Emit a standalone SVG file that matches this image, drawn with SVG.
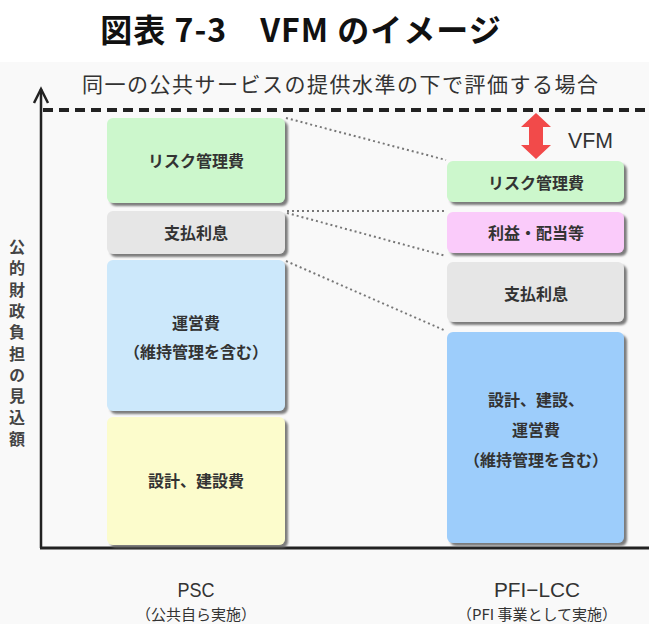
<svg xmlns="http://www.w3.org/2000/svg" width="649" height="624" viewBox="0 0 649 624">
<defs>
<filter id="sh" x="-10%" y="-10%" width="125%" height="130%">
<feGaussianBlur in="SourceAlpha" stdDeviation="1"/>
<feOffset dx="3" dy="3" result="o"/>
<feFlood flood-color="#666" flood-opacity="0.85"/>
<feComposite in2="o" operator="in"/>
<feMerge><feMergeNode/><feMergeNode in="SourceGraphic"/></feMerge>
</filter>
<style>
.box{filter:url(#sh);}
.lbl{font-family:"Noto Sans CJK JP","Noto Sans",sans-serif;font-weight:bold;font-size:16px;fill:#333;text-anchor:middle;}
.dot{stroke:#777;stroke-width:2;stroke-dasharray:2 3;fill:none;}
.green{fill:#ccf7cc;}.gray{fill:#e6e6e6;}.lblue{fill:#cce8fb;}.yellow{fill:#fcfccc;}.pink{fill:#facbfa;}.blue{fill:#9dcdfb;}
.sub{font-family:"Noto Sans CJK JP",sans-serif;font-size:15px;fill:#333;text-anchor:middle;}
.name{font-family:"Liberation Sans",Arial,sans-serif;font-size:21px;fill:#333;text-anchor:middle;}
</style>
</defs>
<rect x="0" y="0" width="649" height="624" fill="#fff"/>
<rect x="0" y="62" width="649" height="562" fill="#f9f9f9"/>
<text x="301" y="42" font-family="Noto Sans CJK JP, sans-serif" font-weight="bold" font-size="32" fill="#111" text-anchor="middle" letter-spacing="1">図表 7-3　VFM のイメージ</text>
<text x="82" y="92" font-family="Noto Sans CJK JP, sans-serif" font-size="21" fill="#333" letter-spacing="1.5">同一の公共サービスの提供水準の下で評価する場合</text>
<text x="17" y="239" font-family="Noto Sans CJK JP, sans-serif" font-weight="bold" font-size="16" fill="#444" writing-mode="vertical-rl" letter-spacing="5.3">公的財政負担の見込額</text>
<g id="axes">
<line x1="41" y1="89" x2="41" y2="548" stroke="#222" stroke-width="2.5"/>
<polyline points="34,103 41,89 48,103" fill="none" stroke="#222" stroke-width="2.5"/>
<line x1="40" y1="548" x2="649" y2="548" stroke="#222" stroke-width="3"/>
<line x1="43" y1="110" x2="649" y2="110" stroke="#222" stroke-width="4" stroke-dasharray="10 6"/>
</g>
<g id="connectors">
<line class="dot" x1="286" y1="118" x2="446" y2="160"/>
<line class="dot" x1="287" y1="211" x2="446" y2="211"/>
<line class="dot" x1="287" y1="213" x2="446" y2="256"/>
<line class="dot" x1="286" y1="261" x2="446" y2="331"/>
</g>
<g id="psc-risk"><rect class="box green" x="107" y="118" width="178" height="85" rx="6"/><text class="lbl" x="196" y="167">リスク管理費</text></g>
<g id="psc-interest"><rect class="box gray" x="107" y="211" width="178" height="43" rx="6"/><text class="lbl" x="196" y="239">支払利息</text></g>
<g id="psc-operation"><rect class="box lblue" x="107" y="260" width="178" height="151" rx="6"/><text class="lbl" x="196" y="329">運営費</text><text class="lbl" x="196" y="358">（維持管理を含む）</text></g>
<g id="psc-design"><rect class="box yellow" x="107" y="417" width="178" height="128" rx="6"/><text class="lbl" x="196" y="487">設計、建設費</text></g>
<g id="pfi-risk"><rect class="box green" x="447" y="161" width="177" height="41" rx="6"/><text class="lbl" x="536" y="189">リスク管理費</text></g>
<g id="pfi-profit"><rect class="box pink" x="447" y="212" width="177" height="41" rx="6"/><text class="lbl" x="536" y="239">利益・配当等</text></g>
<g id="pfi-interest"><rect class="box gray" x="447" y="262" width="177" height="60" rx="6"/><text class="lbl" x="536" y="300">支払利息</text></g>
<g id="pfi-all"><rect class="box blue" x="447" y="332" width="177" height="211" rx="6"/><text class="lbl" x="536" y="406">設計、建設、</text><text class="lbl" x="536" y="436">運営費</text><text class="lbl" x="536" y="466">（維持管理を含む）</text></g>
<g id="vfm">
<polygon points="536,113 551,127 543,127 543,145 551,145 536,159 521,145 529,145 529,127 521,127" fill="#f24a4a"/>
<text x="568" y="148" font-family="Liberation Sans, Arial, sans-serif" font-size="22" fill="#333" textLength="45" lengthAdjust="spacingAndGlyphs">VFM</text>
</g>
<g id="psc-label"><text class="name" x="196" y="597" textLength="37" lengthAdjust="spacingAndGlyphs">PSC</text><text class="sub" x="196" y="620">（公共自ら実施）</text></g>
<g id="pfi-label"><text class="name" x="537" y="597" textLength="86" lengthAdjust="spacingAndGlyphs">PFI−LCC</text><text class="sub" x="537" y="620">（PFI 事業として実施）</text></g>
</svg>
